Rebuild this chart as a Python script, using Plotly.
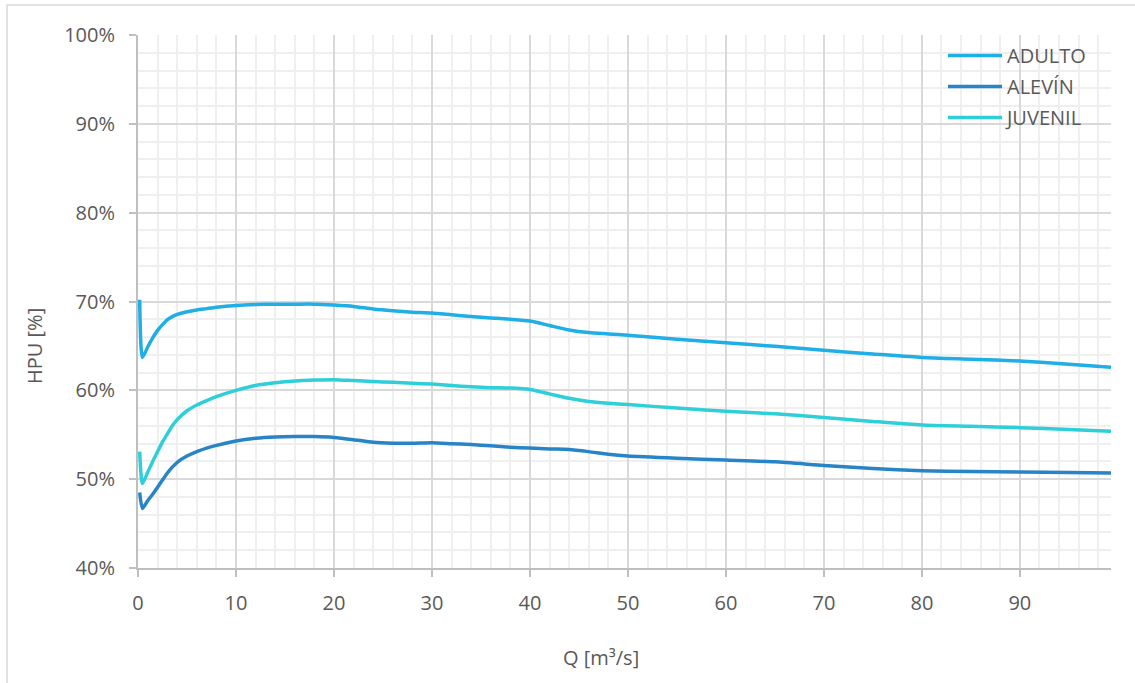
import plotly.graph_objects as go

# Caudal (m³/s) y hábitat potencial útil (%) por estadio
Q = [0.17, 0.45, 1, 1.5, 2, 2.5, 3, 3.5, 4, 5, 6, 7, 8, 10, 12, 14, 16, 18, 20, 22, 24, 26, 28,
     30, 32, 34, 36, 38, 40, 42, 44, 46, 48, 50, 55, 60, 65, 70, 75, 80, 85, 90, 95, 99.3]

ADULTO = [70.2, 63.7, 64.9, 65.9, 66.75, 67.4, 67.95, 68.3, 68.55, 68.85, 69.05, 69.2, 69.35,
          69.55, 69.65, 69.7, 69.7, 69.7, 69.6, 69.45, 69.15, 68.95, 68.8, 68.7, 68.5, 68.3,
          68.15, 68.0, 67.8, 67.3, 66.8, 66.5, 66.35, 66.2, 65.75, 65.35, 64.95, 64.5, 64.1,
          63.7, 63.5, 63.3, 62.95, 62.6]

ALEVIN = [48.5, 46.7, 47.6, 48.3, 49.1, 49.9, 50.7, 51.35, 51.9, 52.6, 53.1, 53.5, 53.8, 54.3,
          54.6, 54.75, 54.8, 54.8, 54.7, 54.45, 54.15, 54.05, 54.05, 54.1, 54.0, 53.9, 53.75,
          53.6, 53.5, 53.4, 53.35, 53.1, 52.8, 52.6, 52.35, 52.15, 51.95, 51.55, 51.2, 50.95,
          50.85, 50.8, 50.75, 50.7]

JUVENIL = [53.1, 49.5, 50.8, 52.0, 53.1, 54.2, 55.1, 56.0, 56.7, 57.7, 58.35, 58.85, 59.3, 60.0,
           60.55, 60.85, 61.05, 61.15, 61.2, 61.1, 61.0, 60.9, 60.8, 60.7, 60.55, 60.4, 60.3,
           60.25, 60.1, 59.6, 59.1, 58.75, 58.55, 58.4, 58.0, 57.65, 57.35, 56.95, 56.5, 56.1,
           55.95, 55.8, 55.6, 55.4]

series = [("ADULTO", ADULTO, "#1FAEE5"),
          ("ALEVÍN", ALEVIN, "#2785C7"),
          ("JUVENIL", JUVENIL, "#2ECFD8")]

FONT = "Open Sans"
GREY_TXT = "#595959"

fig = go.Figure()
for i, (name, vals, color) in enumerate(series):
    fig.add_trace(go.Scatter(
        x=Q, y=vals, name=name, mode="lines", legendgroup=str(i),
        line=dict(color=color, width=3.5, shape="spline", smoothing=0.6),
    ))

fig.update_layout(
    width=1135, height=683,
    margin=dict(l=138, r=24, t=35, b=115),
    paper_bgcolor="white", plot_bgcolor="white",
    font=dict(family=FONT, color=GREY_TXT, size=20),
    showlegend=True,
    legend=dict(
        x=(943 - 138) / 973, y=(568 - 36) / 533, xanchor="left", yanchor="top",
        bgcolor="rgba(0,0,0,0)", traceorder="grouped", tracegroupgap=2,
        font=dict(family=FONT, size=20, color=GREY_TXT),
        itemwidth=54,
    ),
    xaxis=dict(
        range=[0, 99.3], dtick=10, tick0=0,
        showgrid=True, gridcolor="#D9D9D9", gridwidth=1.5,
        minor=dict(dtick=2, showgrid=True, gridcolor="#EFEFEF", gridwidth=1.5),
        showline=True, linecolor="#BFBFBF", linewidth=2,
        ticks="outside", ticklen=7, tickwidth=1.5, tickcolor="#BFBFBF",
        ticklabelstandoff=9, zeroline=False,
        tickfont=dict(family=FONT, size=20, color=GREY_TXT),
    ),
    yaxis=dict(
        range=[40, 100], dtick=10, tick0=40, ticksuffix="%",
        showgrid=True, gridcolor="#D9D9D9", gridwidth=1.5,
        minor=dict(dtick=2, showgrid=True, gridcolor="#EFEFEF", gridwidth=1.5),
        showline=True, linecolor="#BFBFBF", linewidth=2,
        ticks="outside", ticklen=7, tickwidth=1.5, tickcolor="#BFBFBF",
        ticklabelstandoff=10, zeroline=False,
        tickfont=dict(family=FONT, size=20, color=GREY_TXT),
    ),
)

# Axis titles placed as annotations
fig.add_annotation(text="Q [m³/s]", xref="paper", yref="paper",
                   x=(601 - 138) / 973, y=(568 - 658) / 533,
                   showarrow=False, xanchor="center", yanchor="middle",
                   font=dict(family=FONT, size=20, color=GREY_TXT))
fig.add_annotation(text="HPU [%]", xref="paper", yref="paper",
                   x=(34 - 138) / 973, y=(568 - 346) / 533, textangle=-90,
                   showarrow=False, xanchor="center", yanchor="middle",
                   font=dict(family=FONT, size=20, color=GREY_TXT))

# Chart frame
fig.add_shape(type="rect", xref="paper", yref="paper",
              x0=(7 - 138) / 973, x1=(1140 - 138) / 973,
              y0=(568 - 700) / 533, y1=(568 - 5) / 533,
              line=dict(color="#D9D9D9", width=1.5), layer="below")

fig.write_html("out.html")
